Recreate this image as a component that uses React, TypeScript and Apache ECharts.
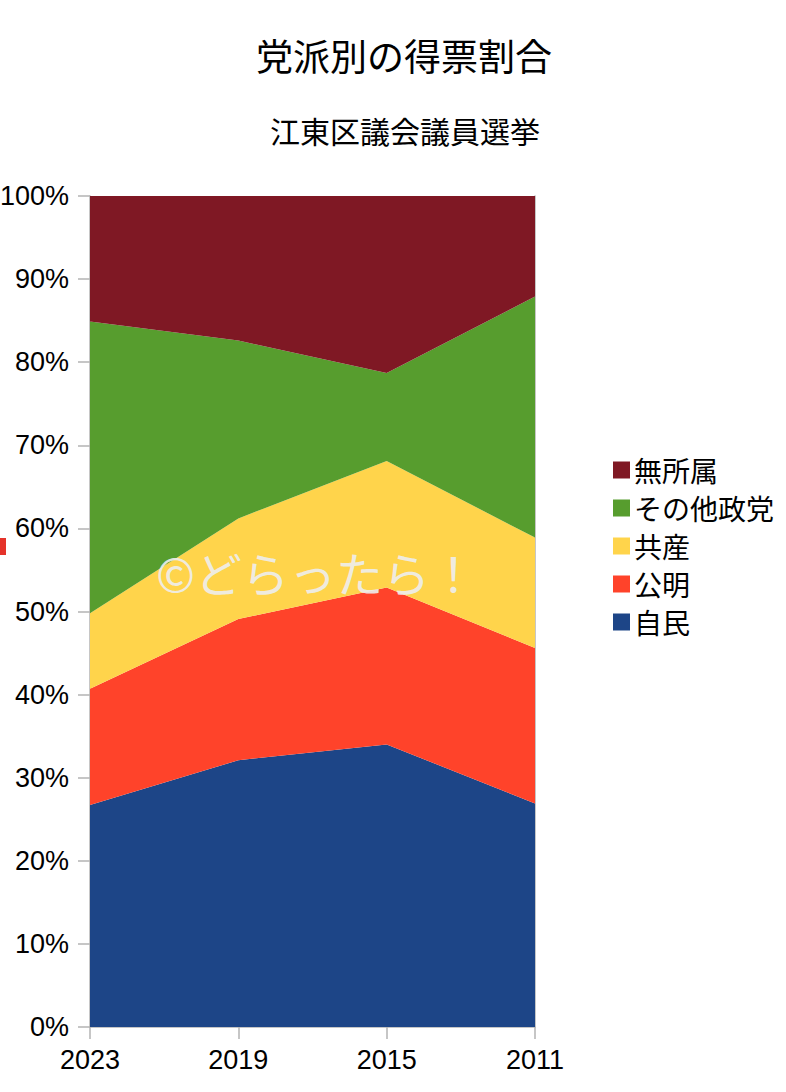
import React, { useEffect, useRef } from "react";
import * as echarts from "echarts";

const years = ["2023", "2019", "2015", "2011"];
const jimin = [26.7, 32.1, 34.0, 26.9];
const komei = [14.0, 17.0, 18.9, 18.7];
const kyosan = [9.1, 12.1, 15.2, 13.3];
const others = [35.1, 21.4, 10.6, 29.0];
const independent = [15.1, 17.4, 21.3, 12.1];
const legendOrder = ["無所属", "その他政党", "共産", "公明", "自民"];

const cjk = "'Noto Sans CJK JP', 'Liberation Sans', sans-serif";
const latin = "'Liberation Sans', Arial, sans-serif";

export default function App() {
  const ref = useRef<HTMLDivElement>(null);
  useEffect(() => {
    document.body.style.margin = "0";
    const chart = echarts.init(ref.current!, null, { renderer: "svg" });
    const mk = (name: string, data: number[], color: string) => ({
      name,
      type: "line",
      stack: "total",
      data,
      symbol: "none",
      lineStyle: { width: 0 },
      itemStyle: { color },
      areaStyle: { color, opacity: 1 },
    });
    chart.setOption({
      animation: false,
      backgroundColor: "#ffffff",
      title: [
        {
          text: "党派別の得票割合",
          left: 399,
          textAlign: "center",
          top: 31,
          textStyle: { fontFamily: cjk, fontSize: 37, fontWeight: "normal", color: "#000" },
        },
        {
          text: "江東区議会議員選挙",
          left: 400,
          textAlign: "center",
          top: 110,
          textStyle: { fontFamily: cjk, fontSize: 30, fontWeight: "normal", color: "#000" },
        },
      ],
      legend: {
        data: legendOrder,
        orient: "vertical",
        left: 608,
        top: 451,
        itemWidth: 17,
        itemHeight: 17,
        itemGap: 10,
        icon: "rect",
        textStyle: { fontFamily: cjk, fontSize: 28, color: "#000", lineHeight: 27, padding: [0, 0, 0, -1] },
      },
      grid: { left: 90, right: 251, top: 196, bottom: 65, containLabel: false, outerBoundsMode: "none" },
      xAxis: {
        type: "category",
        data: years,
        boundaryGap: false,
        axisLine: { lineStyle: { color: "#b3b3b3", width: 1.5 } },
        axisTick: { show: true, length: 12, lineStyle: { color: "#b3b3b3", width: 1.5 } },
        axisLabel: { fontFamily: latin, fontSize: 27, color: "#000", margin: 19 },
        splitLine: { show: false },
      },
      yAxis: [
        {
          type: "value",
          min: 0,
          max: 100,
          interval: 10,
          axisLine: { show: true, lineStyle: { color: "#b3b3b3", width: 1.5 } },
          axisTick: { show: true, length: 12, lineStyle: { color: "#b3b3b3", width: 1.5 } },
          axisLabel: { fontFamily: latin, fontSize: 27, color: "#000", margin: 21, formatter: "{value}%" },
          splitLine: { show: false },
        },
        {
          type: "value",
          min: 0,
          max: 100,
          interval: 10,
          position: "right",
          axisLine: { show: true, lineStyle: { color: "#b3b3b3", width: 1.5 } },
          axisTick: { show: false },
          axisLabel: { show: false },
          splitLine: { show: false },
        },
      ],
      series: [
        mk("自民", jimin, "#1d4587"),
        mk("公明", komei, "#ff432a"),
        mk("共産", kyosan, "#ffd44b"),
        mk("その他政党", others, "#579d2e"),
        mk("無所属", independent, "#7f1824"),
      ],
      graphic: [
        {
          type: "text",
          left: 156,
          top: 548,
          z: 100,
          style: {
            text: "©どらったら！",
            fontFamily: "'Noto Sans CJK JP', serif",
            fontSize: 47,
            fill: "rgba(238,238,238,0.92)",
          },
        },
        {
          type: "rect",
          shape: { x: 0, y: 538, width: 6, height: 17 },
          style: { fill: "#e5332a" },
        },
      ],
    });
    return () => chart.dispose();
  }, []);
  return <div ref={ref} style={{ width: 786, height: 1092 }} />;
}
